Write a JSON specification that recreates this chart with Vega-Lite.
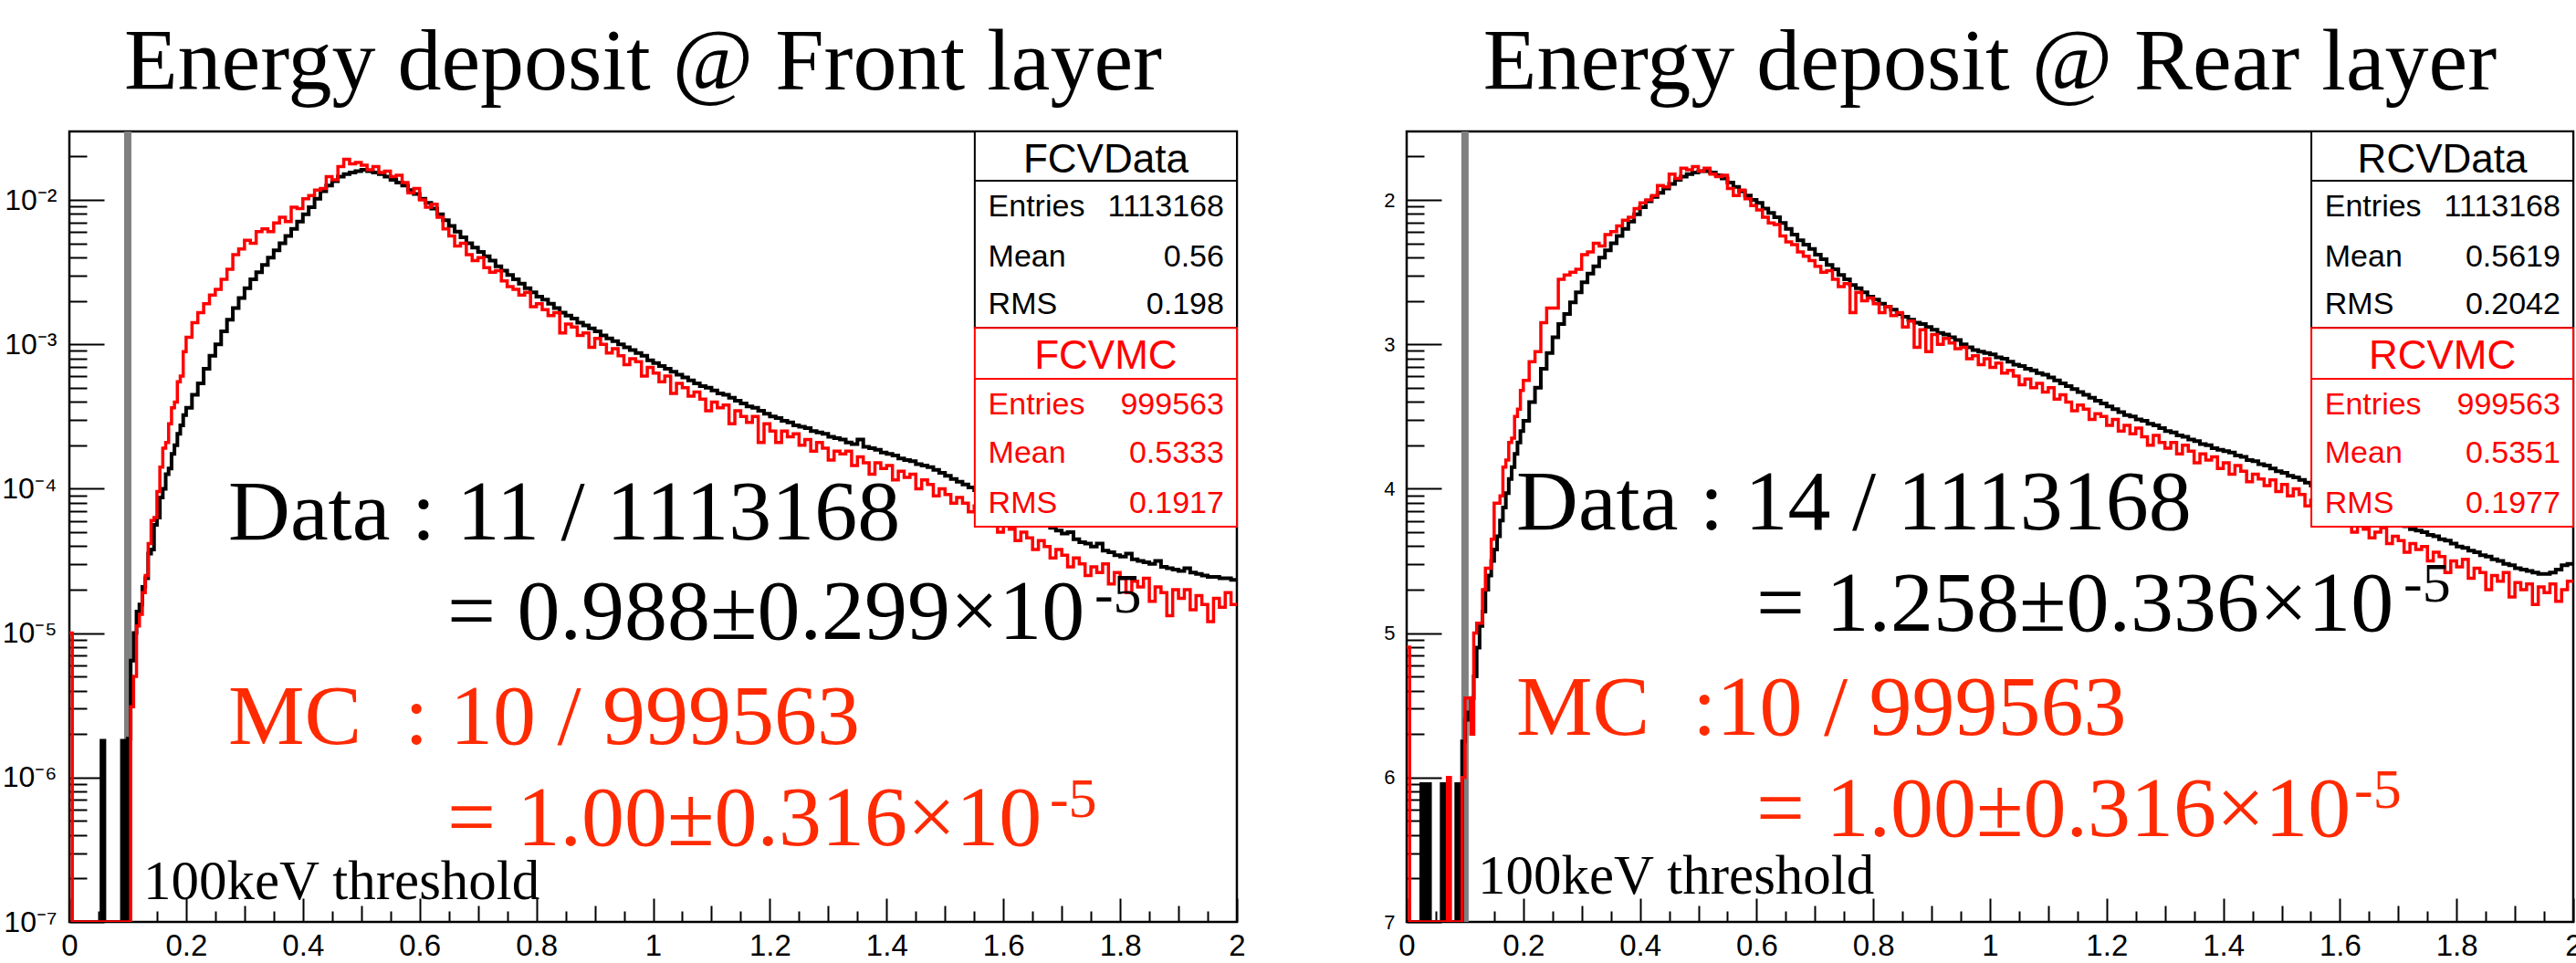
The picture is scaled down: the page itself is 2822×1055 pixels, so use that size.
{
"$schema": "https://vega.github.io/schema/vega-lite/v6.json",
"background": "white",
"padding": {"left": 0, "top": 19, "right": 0, "bottom": 0},
"spacing": 148,
"config": {"view": {"stroke": "black", "strokeWidth": 2.5}, "font": "Liberation Sans"},
"datasets": {
"hist": [
{"x":0.000,"fd":1e-7,"fm":1e-5,"rd":1e-7,"rm":8e-6},
{"x":0.005,"fd":1e-7,"fm":1e-7,"rd":1e-7,"rm":1e-7},
{"x":0.010,"fd":1e-7,"fm":1e-7,"rd":1e-7,"rm":1e-7},
{"x":0.015,"fd":1e-7,"fm":1e-7,"rd":1e-7,"rm":1e-7},
{"x":0.020,"fd":1e-7,"fm":1e-7,"rd":1e-7,"rm":1e-7},
{"x":0.025,"fd":1e-7,"fm":1e-7,"rd":9e-7,"rm":1e-7},
{"x":0.030,"fd":1e-7,"fm":1e-7,"rd":1e-7,"rm":1e-7},
{"x":0.035,"fd":1e-7,"fm":1e-7,"rd":9e-7,"rm":1e-7},
{"x":0.040,"fd":1e-7,"fm":1e-7,"rd":1e-7,"rm":1e-7},
{"x":0.045,"fd":1e-7,"fm":1e-7,"rd":1e-7,"rm":1e-7},
{"x":0.050,"fd":1e-7,"fm":1e-7,"rd":1e-7,"rm":1e-7},
{"x":0.055,"fd":1.8e-6,"fm":1e-7,"rd":1e-7,"rm":1e-7},
{"x":0.060,"fd":1e-7,"fm":1e-7,"rd":9e-7,"rm":1e-7},
{"x":0.065,"fd":1e-7,"fm":1e-7,"rd":1e-7,"rm":1e-7},
{"x":0.070,"fd":1e-7,"fm":1e-7,"rd":1e-7,"rm":1e-6},
{"x":0.075,"fd":1e-7,"fm":1e-7,"rd":1e-7,"rm":1e-7},
{"x":0.080,"fd":1e-7,"fm":1e-7,"rd":1e-7,"rm":1e-7},
{"x":0.085,"fd":1e-7,"fm":1e-7,"rd":9e-7,"rm":1e-7},
{"x":0.090,"fd":1.8e-6,"fm":1e-7,"rd":1e-7,"rm":1e-7},
{"x":0.095,"fd":1e-7,"fm":1e-7,"rd":1.78e-6,"rm":1e-6},
{"x":0.100,"fd":1.86e-6,"fm":1e-7,"rd":2.51e-6,"rm":3.55e-6},
{"x":0.105,"fd":6.46e-6,"fm":3.09e-6,"rd":2.82e-6,"rm":3.55e-6},
{"x":0.110,"fd":1.00e-5,"fm":5.01e-6,"rd":3.55e-6,"rm":2.00e-6},
{"x":0.115,"fd":1.41e-5,"fm":1.12e-5,"rd":5.01e-6,"rm":1.00e-5},
{"x":0.120,"fd":1.58e-5,"fm":1.35e-5,"rd":7.94e-6,"rm":1.17e-5},
{"x":0.125,"fd":2.09e-5,"fm":1.91e-5,"rd":1.12e-5,"rm":1.17e-5},
{"x":0.130,"fd":2.40e-5,"fm":2.51e-5,"rd":1.41e-5,"rm":2.00e-5},
{"x":0.135,"fd":3.55e-5,"fm":4.17e-5,"rd":2.00e-5,"rm":2.82e-5},
{"x":0.140,"fd":3.80e-5,"fm":6.03e-5,"rd":2.51e-5,"rm":2.82e-5},
{"x":0.145,"fd":5.62e-5,"fm":6.31e-5,"rd":3.16e-5,"rm":4.47e-5},
{"x":0.150,"fd":6.31e-5,"fm":9.55e-5,"rd":3.80e-5,"rm":7.94e-5},
{"x":0.155,"fd":8.71e-5,"fm":1.41e-4,"rd":4.68e-5,"rm":7.94e-5},
{"x":0.160,"fd":1.00e-4,"fm":1.91e-4,"rd":6.03e-5,"rm":8.91e-5},
{"x":0.165,"fd":1.26e-4,"fm":2.09e-4,"rd":7.41e-5,"rm":1.41e-4},
{"x":0.170,"fd":1.38e-4,"fm":2.82e-4,"rd":9.33e-5,"rm":1.58e-4},
{"x":0.175,"fd":1.74e-4,"fm":3.63e-4,"rd":1.17e-4,"rm":2.09e-4},
{"x":0.180,"fd":2.00e-4,"fm":3.98e-4,"rd":1.41e-4,"rm":2.24e-4},
{"x":0.185,"fd":2.40e-4,"fm":5.50e-4,"rd":1.74e-4,"rm":3.16e-4},
{"x":0.190,"fd":2.75e-4,"fm":6.03e-4,"rd":2.09e-4,"rm":3.55e-4},
{"x":0.195,"fd":3.24e-4,"fm":8.91e-4,"rd":2.51e-4,"rm":4.79e-4},
{"x":0.20,"fd":3.63e-4,"fm":1.12e-3,"rd":2.95e-4,"rm":5.62e-4},
{"x":0.21,"fd":4.47e-4,"fm":1.41e-3,"rd":3.98e-4,"rm":7.59e-4},
{"x":0.22,"fd":5.37e-4,"fm":1.66e-3,"rd":5.01e-4,"rm":8.91e-4},
{"x":0.23,"fd":6.76e-4,"fm":1.91e-3,"rd":6.76e-4,"rm":1.41e-3},
{"x":0.24,"fd":8.32e-4,"fm":2.19e-3,"rd":8.71e-4,"rm":1.78e-3},
{"x":0.25,"fd":1.00e-3,"fm":2.40e-3,"rd":1.12e-3,"rm":1.78e-3},
{"x":0.26,"fd":1.23e-3,"fm":2.82e-3,"rd":1.38e-3,"rm":2.82e-3},
{"x":0.27,"fd":1.48e-3,"fm":3.31e-3,"rd":1.62e-3,"rm":3.02e-3},
{"x":0.28,"fd":1.78e-3,"fm":4.17e-3,"rd":1.95e-3,"rm":3.16e-3},
{"x":0.29,"fd":2.09e-3,"fm":4.57e-3,"rd":2.29e-3,"rm":3.31e-3},
{"x":0.30,"fd":2.45e-3,"fm":5.25e-3,"rd":2.69e-3,"rm":4.17e-3},
{"x":0.31,"fd":2.82e-3,"fm":5.01e-3,"rd":3.09e-3,"rm":4.37e-3},
{"x":0.32,"fd":3.16e-3,"fm":6.03e-3,"rd":3.47e-3,"rm":5.01e-3},
{"x":0.33,"fd":3.55e-3,"fm":6.31e-3,"rd":3.98e-3,"rm":4.79e-3},
{"x":0.34,"fd":3.98e-3,"fm":6.03e-3,"rd":4.47e-3,"rm":5.75e-3},
{"x":0.35,"fd":4.47e-3,"fm":6.92e-3,"rd":5.01e-3,"rm":6.03e-3},
{"x":0.36,"fd":5.01e-3,"fm":7.59e-3,"rd":5.62e-3,"rm":6.61e-3},
{"x":0.37,"fd":5.62e-3,"fm":7.08e-3,"rd":6.31e-3,"rm":7.24e-3},
{"x":0.38,"fd":6.31e-3,"fm":8.91e-3,"rd":7.08e-3,"rm":7.59e-3},
{"x":0.39,"fd":7.08e-3,"fm":8.71e-3,"rd":7.94e-3,"rm":8.71e-3},
{"x":0.40,"fd":7.94e-3,"fm":1.02e-2,"rd":8.91e-3,"rm":9.55e-3},
{"x":0.41,"fd":8.91e-3,"fm":1.07e-2,"rd":9.77e-3,"rm":1.00e-2},
{"x":0.42,"fd":1.02e-2,"fm":1.17e-2,"rd":1.05e-2,"rm":1.07e-2},
{"x":0.43,"fd":1.15e-2,"fm":1.20e-2,"rd":1.12e-2,"rm":1.26e-2},
{"x":0.44,"fd":1.26e-2,"fm":1.45e-2,"rd":1.20e-2,"rm":1.23e-2},
{"x":0.45,"fd":1.35e-2,"fm":1.38e-2,"rd":1.29e-2,"rm":1.51e-2},
{"x":0.46,"fd":1.45e-2,"fm":1.70e-2,"rd":1.38e-2,"rm":1.41e-2},
{"x":0.47,"fd":1.51e-2,"fm":1.91e-2,"rd":1.45e-2,"rm":1.66e-2},
{"x":0.48,"fd":1.55e-2,"fm":1.78e-2,"rd":1.51e-2,"rm":1.62e-2},
{"x":0.49,"fd":1.58e-2,"fm":1.82e-2,"rd":1.55e-2,"rm":1.70e-2},
{"x":0.50,"fd":1.62e-2,"fm":1.74e-2,"rd":1.58e-2,"rm":1.58e-2},
{"x":0.51,"fd":1.58e-2,"fm":1.62e-2,"rd":1.58e-2,"rm":1.66e-2},
{"x":0.52,"fd":1.55e-2,"fm":1.70e-2,"rd":1.55e-2,"rm":1.51e-2},
{"x":0.53,"fd":1.51e-2,"fm":1.55e-2,"rd":1.48e-2,"rm":1.45e-2},
{"x":0.54,"fd":1.45e-2,"fm":1.58e-2,"rd":1.41e-2,"rm":1.48e-2},
{"x":0.55,"fd":1.38e-2,"fm":1.45e-2,"rd":1.32e-2,"rm":1.20e-2},
{"x":0.56,"fd":1.32e-2,"fm":1.48e-2,"rd":1.23e-2,"rm":1.07e-2},
{"x":0.57,"fd":1.26e-2,"fm":1.32e-2,"rd":1.15e-2,"rm":1.17e-2},
{"x":0.58,"fd":1.17e-2,"fm":1.12e-2,"rd":1.07e-2,"rm":1.02e-2},
{"x":0.59,"fd":1.10e-2,"fm":1.20e-2,"rd":1.00e-2,"rm":9.12e-3},
{"x":0.60,"fd":1.02e-2,"fm":1.00e-2,"rd":9.55e-3,"rm":8.51e-3},
{"x":0.61,"fd":9.55e-3,"fm":8.91e-3,"rd":8.71e-3,"rm":7.59e-3},
{"x":0.62,"fd":8.71e-3,"fm":9.33e-3,"rd":8.13e-3,"rm":6.92e-3},
{"x":0.63,"fd":7.94e-3,"fm":7.59e-3,"rd":7.59e-3,"rm":6.76e-3},
{"x":0.64,"fd":7.24e-3,"fm":6.31e-3,"rd":6.92e-3,"rm":5.62e-3},
{"x":0.65,"fd":6.61e-3,"fm":5.62e-3,"rd":6.31e-3,"rm":5.13e-3},
{"x":0.66,"fd":6.03e-3,"fm":4.79e-3,"rd":5.75e-3,"rm":4.90e-3},
{"x":0.67,"fd":5.50e-3,"fm":5.01e-3,"rd":5.25e-3,"rm":4.37e-3},
{"x":0.68,"fd":5.01e-3,"fm":4.17e-3,"rd":4.90e-3,"rm":4.07e-3},
{"x":0.69,"fd":4.68e-3,"fm":3.80e-3,"rd":4.57e-3,"rm":3.80e-3},
{"x":0.70,"fd":4.37e-3,"fm":3.98e-3,"rd":4.17e-3,"rm":3.47e-3},
{"x":0.71,"fd":4.07e-3,"fm":3.39e-3,"rd":3.89e-3,"rm":3.16e-3},
{"x":0.72,"fd":3.80e-3,"fm":3.16e-3,"rd":3.55e-3,"rm":3.24e-3},
{"x":0.73,"fd":3.47e-3,"fm":3.24e-3,"rd":3.31e-3,"rm":2.82e-3},
{"x":0.74,"fd":3.24e-3,"fm":2.75e-3,"rd":3.02e-3,"rm":2.51e-3},
{"x":0.75,"fd":3.02e-3,"fm":2.51e-3,"rd":2.82e-3,"rm":2.63e-3},
{"x":0.76,"fd":2.82e-3,"fm":2.40e-3,"rd":2.57e-3,"rm":1.66e-3},
{"x":0.77,"fd":2.63e-3,"fm":2.19e-3,"rd":2.45e-3,"rm":2.29e-3},
{"x":0.78,"fd":2.45e-3,"fm":2.29e-3,"rd":2.29e-3,"rm":2.00e-3},
{"x":0.79,"fd":2.29e-3,"fm":1.82e-3,"rd":2.14e-3,"rm":2.09e-3},
{"x":0.80,"fd":2.14e-3,"fm":1.91e-3,"rd":2.04e-3,"rm":1.91e-3},
{"x":0.81,"fd":2.04e-3,"fm":1.74e-3,"rd":1.91e-3,"rm":1.66e-3},
{"x":0.82,"fd":1.91e-3,"fm":1.58e-3,"rd":1.82e-3,"rm":1.82e-3},
{"x":0.83,"fd":1.78e-3,"fm":1.66e-3,"rd":1.74e-3,"rm":1.58e-3},
{"x":0.84,"fd":1.66e-3,"fm":1.20e-3,"rd":1.62e-3,"rm":1.66e-3},
{"x":0.85,"fd":1.58e-3,"fm":1.38e-3,"rd":1.55e-3,"rm":1.32e-3},
{"x":0.86,"fd":1.51e-3,"fm":1.32e-3,"rd":1.48e-3,"rm":1.45e-3},
{"x":0.87,"fd":1.41e-3,"fm":1.15e-3,"rd":1.41e-3,"rm":9.55e-4},
{"x":0.88,"fd":1.35e-3,"fm":1.20e-3,"rd":1.38e-3,"rm":1.26e-3},
{"x":0.89,"fd":1.29e-3,"fm":9.55e-4,"rd":1.32e-3,"rm":8.91e-4},
{"x":0.90,"fd":1.23e-3,"fm":1.10e-3,"rd":1.26e-3,"rm":1.17e-3},
{"x":0.91,"fd":1.15e-3,"fm":1.00e-3,"rd":1.20e-3,"rm":1.00e-3},
{"x":0.92,"fd":1.10e-3,"fm":8.71e-4,"rd":1.17e-3,"rm":1.10e-3},
{"x":0.93,"fd":1.05e-3,"fm":9.33e-4,"rd":1.12e-3,"rm":1.02e-3},
{"x":0.94,"fd":1.00e-3,"fm":8.32e-4,"rd":1.07e-3,"rm":9.33e-4},
{"x":0.95,"fd":9.55e-4,"fm":7.24e-4,"rd":1.00e-3,"rm":9.55e-4},
{"x":0.96,"fd":9.12e-4,"fm":7.94e-4,"rd":9.55e-4,"rm":7.94e-4},
{"x":0.97,"fd":8.71e-4,"fm":7.59e-4,"rd":9.12e-4,"rm":8.32e-4},
{"x":0.98,"fd":8.32e-4,"fm":6.03e-4,"rd":8.91e-4,"rm":7.24e-4},
{"x":0.99,"fd":7.76e-4,"fm":6.92e-4,"rd":8.71e-4,"rm":7.94e-4},
{"x":1.00,"fd":7.41e-4,"fm":6.31e-4,"rd":8.51e-4,"rm":6.92e-4},
{"x":1.01,"fd":7.08e-4,"fm":5.50e-4,"rd":8.13e-4,"rm":7.41e-4},
{"x":1.02,"fd":6.76e-4,"fm":6.03e-4,"rd":7.94e-4,"rm":6.31e-4},
{"x":1.03,"fd":6.46e-4,"fm":4.57e-4,"rd":7.59e-4,"rm":6.61e-4},
{"x":1.04,"fd":6.17e-4,"fm":5.37e-4,"rd":7.24e-4,"rm":6.03e-4},
{"x":1.05,"fd":5.89e-4,"fm":5.01e-4,"rd":7.08e-4,"rm":5.25e-4},
{"x":1.06,"fd":5.62e-4,"fm":4.37e-4,"rd":6.76e-4,"rm":5.75e-4},
{"x":1.07,"fd":5.37e-4,"fm":4.68e-4,"rd":6.61e-4,"rm":5.01e-4},
{"x":1.08,"fd":5.13e-4,"fm":4.17e-4,"rd":6.31e-4,"rm":5.37e-4},
{"x":1.09,"fd":5.01e-4,"fm":3.47e-4,"rd":6.17e-4,"rm":4.68e-4},
{"x":1.10,"fd":4.79e-4,"fm":3.98e-4,"rd":5.89e-4,"rm":5.01e-4},
{"x":1.11,"fd":4.57e-4,"fm":3.63e-4,"rd":5.62e-4,"rm":4.17e-4},
{"x":1.12,"fd":4.47e-4,"fm":3.80e-4,"rd":5.37e-4,"rm":4.47e-4},
{"x":1.13,"fd":4.27e-4,"fm":2.82e-4,"rd":5.13e-4,"rm":3.98e-4},
{"x":1.14,"fd":4.07e-4,"fm":3.47e-4,"rd":4.90e-4,"rm":3.47e-4},
{"x":1.15,"fd":3.89e-4,"fm":3.16e-4,"rd":4.68e-4,"rm":3.80e-4},
{"x":1.16,"fd":3.72e-4,"fm":2.88e-4,"rd":4.47e-4,"rm":3.55e-4},
{"x":1.17,"fd":3.63e-4,"fm":3.16e-4,"rd":4.27e-4,"rm":3.02e-4},
{"x":1.18,"fd":3.47e-4,"fm":2.09e-4,"rd":4.07e-4,"rm":3.31e-4},
{"x":1.19,"fd":3.31e-4,"fm":2.82e-4,"rd":3.89e-4,"rm":3.16e-4},
{"x":1.20,"fd":3.16e-4,"fm":2.51e-4,"rd":3.72e-4,"rm":2.75e-4},
{"x":1.21,"fd":3.09e-4,"fm":2.09e-4,"rd":3.55e-4,"rm":3.02e-4},
{"x":1.22,"fd":2.95e-4,"fm":2.51e-4,"rd":3.39e-4,"rm":2.51e-4},
{"x":1.23,"fd":2.88e-4,"fm":2.29e-4,"rd":3.24e-4,"rm":2.75e-4},
{"x":1.24,"fd":2.75e-4,"fm":2.40e-4,"rd":3.16e-4,"rm":2.40e-4},
{"x":1.25,"fd":2.69e-4,"fm":2.00e-4,"rd":3.02e-4,"rm":2.63e-4},
{"x":1.26,"fd":2.63e-4,"fm":2.19e-4,"rd":2.95e-4,"rm":2.29e-4},
{"x":1.27,"fd":2.51e-4,"fm":1.82e-4,"rd":2.82e-4,"rm":2.00e-4},
{"x":1.28,"fd":2.45e-4,"fm":2.09e-4,"rd":2.75e-4,"rm":2.34e-4},
{"x":1.29,"fd":2.40e-4,"fm":1.91e-4,"rd":2.63e-4,"rm":2.09e-4},
{"x":1.30,"fd":2.29e-4,"fm":1.58e-4,"rd":2.51e-4,"rm":1.91e-4},
{"x":1.31,"fd":2.24e-4,"fm":1.82e-4,"rd":2.45e-4,"rm":2.09e-4},
{"x":1.32,"fd":2.19e-4,"fm":1.74e-4,"rd":2.34e-4,"rm":1.74e-4},
{"x":1.33,"fd":2.09e-4,"fm":1.82e-4,"rd":2.29e-4,"rm":2.00e-4},
{"x":1.34,"fd":2.04e-4,"fm":1.45e-4,"rd":2.19e-4,"rm":1.82e-4},
{"x":1.35,"fd":2.19e-4,"fm":1.66e-4,"rd":2.14e-4,"rm":1.51e-4},
{"x":1.36,"fd":1.95e-4,"fm":1.51e-4,"rd":2.04e-4,"rm":1.74e-4},
{"x":1.37,"fd":1.91e-4,"fm":1.26e-4,"rd":2.00e-4,"rm":1.58e-4},
{"x":1.38,"fd":1.86e-4,"fm":1.51e-4,"rd":1.91e-4,"rm":1.66e-4},
{"x":1.39,"fd":1.78e-4,"fm":1.38e-4,"rd":1.86e-4,"rm":1.38e-4},
{"x":1.40,"fd":1.74e-4,"fm":1.45e-4,"rd":1.82e-4,"rm":1.51e-4},
{"x":1.41,"fd":1.70e-4,"fm":1.15e-4,"rd":1.78e-4,"rm":1.26e-4},
{"x":1.42,"fd":1.62e-4,"fm":1.32e-4,"rd":1.70e-4,"rm":1.45e-4},
{"x":1.43,"fd":1.58e-4,"fm":1.20e-4,"rd":1.66e-4,"rm":1.32e-4},
{"x":1.44,"fd":1.55e-4,"fm":1.26e-4,"rd":1.58e-4,"rm":1.12e-4},
{"x":1.45,"fd":1.48e-4,"fm":1.00e-4,"rd":1.55e-4,"rm":1.26e-4},
{"x":1.46,"fd":1.45e-4,"fm":1.15e-4,"rd":1.48e-4,"rm":1.17e-4},
{"x":1.47,"fd":1.41e-4,"fm":1.07e-4,"rd":1.45e-4,"rm":1.05e-4},
{"x":1.48,"fd":1.35e-4,"fm":8.91e-5,"rd":1.38e-4,"rm":1.15e-4},
{"x":1.49,"fd":1.29e-4,"fm":1.00e-4,"rd":1.32e-4,"rm":9.55e-5},
{"x":1.50,"fd":1.23e-4,"fm":9.12e-5,"rd":1.29e-4,"rm":1.07e-4},
{"x":1.51,"fd":1.17e-4,"fm":7.94e-5,"rd":1.23e-4,"rm":8.91e-5},
{"x":1.52,"fd":1.12e-4,"fm":8.71e-5,"rd":1.20e-4,"rm":1.00e-4},
{"x":1.53,"fd":1.07e-4,"fm":7.94e-5,"rd":1.15e-4,"rm":9.12e-5},
{"x":1.54,"fd":1.02e-4,"fm":6.92e-5,"rd":1.10e-4,"rm":7.59e-5},
{"x":1.55,"fd":9.77e-5,"fm":7.59e-5,"rd":1.05e-4,"rm":8.32e-5},
{"x":1.56,"fd":9.33e-5,"fm":6.31e-5,"rd":1.00e-4,"rm":7.94e-5},
{"x":1.57,"fd":8.91e-5,"fm":6.92e-5,"rd":9.55e-5,"rm":6.61e-5},
{"x":1.58,"fd":8.51e-5,"fm":6.03e-5,"rd":9.12e-5,"rm":7.24e-5},
{"x":1.59,"fd":8.13e-5,"fm":5.01e-5,"rd":8.71e-5,"rm":6.31e-5},
{"x":1.60,"fd":7.76e-5,"fm":5.75e-5,"rd":8.32e-5,"rm":6.92e-5},
{"x":1.61,"fd":7.41e-5,"fm":5.25e-5,"rd":7.94e-5,"rm":5.75e-5},
{"x":1.62,"fd":7.08e-5,"fm":4.37e-5,"rd":7.41e-5,"rm":5.01e-5},
{"x":1.63,"fd":6.76e-5,"fm":5.01e-5,"rd":7.08e-5,"rm":6.03e-5},
{"x":1.64,"fd":6.46e-5,"fm":4.57e-5,"rd":6.92e-5,"rm":5.25e-5},
{"x":1.65,"fd":6.17e-5,"fm":3.80e-5,"rd":6.61e-5,"rm":4.57e-5},
{"x":1.66,"fd":5.89e-5,"fm":4.37e-5,"rd":6.46e-5,"rm":5.01e-5},
{"x":1.67,"fd":5.62e-5,"fm":3.98e-5,"rd":6.17e-5,"rm":5.37e-5},
{"x":1.68,"fd":5.37e-5,"fm":3.31e-5,"rd":6.03e-5,"rm":4.17e-5},
{"x":1.69,"fd":5.13e-5,"fm":3.80e-5,"rd":5.75e-5,"rm":4.68e-5},
{"x":1.70,"fd":4.90e-5,"fm":3.47e-5,"rd":5.62e-5,"rm":4.37e-5},
{"x":1.71,"fd":5.01e-5,"fm":2.88e-5,"rd":5.50e-5,"rm":3.63e-5},
{"x":1.72,"fd":4.47e-5,"fm":3.31e-5,"rd":5.25e-5,"rm":4.17e-5},
{"x":1.73,"fd":4.27e-5,"fm":3.02e-5,"rd":5.13e-5,"rm":3.80e-5},
{"x":1.74,"fd":4.17e-5,"fm":2.51e-5,"rd":5.01e-5,"rm":3.98e-5},
{"x":1.75,"fd":3.98e-5,"fm":2.88e-5,"rd":4.79e-5,"rm":3.16e-5},
{"x":1.76,"fd":4.17e-5,"fm":2.63e-5,"rd":4.68e-5,"rm":3.63e-5},
{"x":1.77,"fd":3.72e-5,"fm":3.02e-5,"rd":4.47e-5,"rm":3.39e-5},
{"x":1.78,"fd":3.63e-5,"fm":2.19e-5,"rd":4.37e-5,"rm":2.63e-5},
{"x":1.79,"fd":3.47e-5,"fm":2.63e-5,"rd":4.17e-5,"rm":3.16e-5},
{"x":1.80,"fd":3.39e-5,"fm":2.40e-5,"rd":3.98e-5,"rm":2.88e-5},
{"x":1.81,"fd":3.55e-5,"fm":1.91e-5,"rd":3.89e-5,"rm":3.24e-5},
{"x":1.82,"fd":3.24e-5,"fm":2.29e-5,"rd":3.72e-5,"rm":2.40e-5},
{"x":1.83,"fd":3.16e-5,"fm":2.09e-5,"rd":3.63e-5,"rm":2.82e-5},
{"x":1.84,"fd":3.09e-5,"fm":2.40e-5,"rd":3.47e-5,"rm":2.63e-5},
{"x":1.85,"fd":3.02e-5,"fm":1.66e-5,"rd":3.39e-5,"rm":2.00e-5},
{"x":1.86,"fd":3.16e-5,"fm":2.09e-5,"rd":3.24e-5,"rm":2.51e-5},
{"x":1.87,"fd":2.88e-5,"fm":1.91e-5,"rd":3.16e-5,"rm":2.29e-5},
{"x":1.88,"fd":2.82e-5,"fm":1.32e-5,"rd":3.02e-5,"rm":2.63e-5},
{"x":1.89,"fd":2.75e-5,"fm":2.00e-5,"rd":2.95e-5,"rm":1.78e-5},
{"x":1.90,"fd":2.69e-5,"fm":1.74e-5,"rd":2.82e-5,"rm":2.24e-5},
{"x":1.91,"fd":2.82e-5,"fm":2.00e-5,"rd":2.75e-5,"rm":2.00e-5},
{"x":1.92,"fd":2.63e-5,"fm":1.45e-5,"rd":2.69e-5,"rm":2.19e-5},
{"x":1.93,"fd":2.57e-5,"fm":1.82e-5,"rd":2.63e-5,"rm":1.58e-5},
{"x":1.94,"fd":2.51e-5,"fm":1.58e-5,"rd":2.57e-5,"rm":2.09e-5},
{"x":1.95,"fd":2.45e-5,"fm":1.20e-5,"rd":2.57e-5,"rm":1.91e-5},
{"x":1.96,"fd":2.45e-5,"fm":1.74e-5,"rd":2.63e-5,"rm":2.19e-5},
{"x":1.97,"fd":2.40e-5,"fm":1.51e-5,"rd":2.75e-5,"rm":1.66e-5},
{"x":1.98,"fd":2.40e-5,"fm":1.91e-5,"rd":2.95e-5,"rm":2.00e-5},
{"x":1.99,"fd":2.34e-5,"fm":1.58e-5,"rd":3.02e-5,"rm":2.29e-5},
{"x":2.00,"fd":2.34e-5,"fm":1.58e-5,"rd":3.02e-5,"rm":2.29e-5}
],
"boxes": [
{"series":"Data","top":0.0298,"bottom":1.30e-3,"divider":1.36e-2},
{"series":"MC","top":1.30e-3,"bottom":5.46e-5,"divider":5.77e-4}
],
"stats": [
{"panel":"F","series":"Data","kind":"title","label":"FCVData","value":"","y":1.55e-2},
{"panel":"F","series":"Data","kind":"stat","label":"Entries","value":"1113168","y":7.69e-3},
{"panel":"F","series":"Data","kind":"stat","label":"Mean","value":"0.56","y":3.45e-3},
{"panel":"F","series":"Data","kind":"stat","label":"RMS","value":"0.198","y":1.62e-3},
{"panel":"F","series":"MC","kind":"title","label":"FCVMC","value":"","y":6.77e-4},
{"panel":"F","series":"MC","kind":"stat","label":"Entries","value":"999563","y":3.27e-4},
{"panel":"F","series":"MC","kind":"stat","label":"Mean","value":"0.5333","y":1.51e-4},
{"panel":"F","series":"MC","kind":"stat","label":"RMS","value":"0.1917","y":6.79e-5},
{"panel":"R","series":"Data","kind":"title","label":"RCVData","value":"","y":1.55e-2},
{"panel":"R","series":"Data","kind":"stat","label":"Entries","value":"1113168","y":7.69e-3},
{"panel":"R","series":"Data","kind":"stat","label":"Mean","value":"0.5619","y":3.45e-3},
{"panel":"R","series":"Data","kind":"stat","label":"RMS","value":"0.2042","y":1.62e-3},
{"panel":"R","series":"MC","kind":"title","label":"RCVMC","value":"","y":6.77e-4},
{"panel":"R","series":"MC","kind":"stat","label":"Entries","value":"999563","y":3.27e-4},
{"panel":"R","series":"MC","kind":"stat","label":"Mean","value":"0.5351","y":1.51e-4},
{"panel":"R","series":"MC","kind":"stat","label":"RMS","value":"0.1977","y":6.79e-5}
],
"notes": [
{"panel":"F","series":"Data","kind":"line","x":0.2721,"y":4.45e-5,"text":"Data : 11 / 1113168"},
{"panel":"F","series":"Data","kind":"line","x":0.6474,"y":9.1e-6,"text":"= 0.988±0.299×10"},
{"panel":"F","series":"Data","kind":"exp","x":1.756,"y":1.39e-5,"text":"-5"},
{"panel":"F","series":"MC","kind":"line","x":0.2721,"y":1.71e-6,"text":"MC\u00a0 : 10 / 999563"},
{"panel":"F","series":"MC","kind":"line","x":0.6474,"y":3.4e-7,"text":"= 1.00±0.316×10"},
{"panel":"F","series":"MC","kind":"exp","x":1.6794,"y":5.33e-7,"text":"-5"},
{"panel":"F","series":"Threshold","kind":"thr","x":0.1267,"y":1.44e-7,"text":"100keV threshold"},
{"panel":"R","series":"Data","kind":"line","x":0.1878,"y":5.22e-5,"text":"Data : 14 / 1113168"},
{"panel":"R","series":"Data","kind":"line","x":0.5994,"y":1.04e-5,"text":"= 1.258±0.336×10"},
{"panel":"R","series":"Data","kind":"exp","x":1.709,"y":1.66e-5,"text":"-5"},
{"panel":"R","series":"MC","kind":"line","x":0.1878,"y":1.98e-6,"text":"MC\u00a0 :10 / 999563"},
{"panel":"R","series":"MC","kind":"line","x":0.5994,"y":3.93e-7,"text":"= 1.00±0.316×10"},
{"panel":"R","series":"MC","kind":"exp","x":1.6244,"y":6.17e-7,"text":"-5"},
{"panel":"R","series":"Threshold","kind":"thr","x":0.1221,"y":1.57e-7,"text":"100keV threshold"}
]
},
"hconcat": [
{
"width": 1279, "height": 866,
"title": {"text": "Energy deposit @ Front layer", "font": "Liberation Serif", "fontSize": 96, "fontWeight": "normal", "color": "black", "offset": 22, "anchor": "middle", "dx": -11},
"resolve": {"axis": {"x": "independent", "y": "independent"}},
"layer": [
{"data": {"values": [{"t": 0.1}]}, "mark": {"type": "rule", "color": "#808080", "strokeWidth": 8},
 "encoding": {"x": {"field": "t", "type": "quantitative", "scale": {"domain": [0, 2], "nice": false}, "axis": null}}},
{"data": {"name": "hist"}, "mark": {"type": "point", "opacity": 0},
 "encoding": {
  "x": {"field": "x", "type": "quantitative", "scale": {"domain": [0, 2], "nice": false},
   "axis": {"orient": "bottom", "values": [0.05,0.15,0.25,0.35,0.45,0.55,0.65,0.75,0.85,0.95,1.05,1.15,1.25,1.35,1.45,1.55,1.65,1.75,1.85,1.95], "offset": -12, "tickSize": 12, "tickWidth": 2, "tickColor": "black", "labels": false, "domain": false, "grid": false, "title": null}},
  "y": {"field": "fd", "type": "quantitative", "scale": {"type": "log", "domain": [1e-7, 0.0298], "nice": false},
   "axis": {"orient": "left", "values": [2e-7,3e-7,4e-7,5e-7,6e-7,7e-7,8e-7,9e-7,2e-6,3e-6,4e-6,5e-6,6e-6,7e-6,8e-6,9e-6,2e-5,3e-5,4e-5,5e-5,6e-5,7e-5,8e-5,9e-5,2e-4,3e-4,4e-4,5e-4,6e-4,7e-4,8e-4,9e-4,2e-3,3e-3,4e-3,5e-3,6e-3,7e-3,8e-3,9e-3,2e-2], "offset": -19, "tickSize": 19, "tickWidth": 2, "tickColor": "black", "labels": false, "domain": false, "grid": false, "title": null}}}},
{"data": {"name": "hist"}, "mark": {"type": "point", "opacity": 0},
 "encoding": {
  "x": {"field": "x", "type": "quantitative", "scale": {"domain": [0, 2], "nice": false},
   "axis": {"orient": "bottom", "values": [0.1,0.3,0.5,0.7,0.9,1.1,1.3,1.5,1.7,1.9], "offset": -18, "tickSize": 18, "tickWidth": 2, "tickColor": "black", "labels": false, "domain": false, "grid": false, "title": null}},
  "y": {"field": "fd", "type": "quantitative", "scale": {"type": "log", "domain": [1e-7, 0.0298], "nice": false}, "axis": null}}},
{"data": {"name": "hist"}, "mark": {"type": "line", "interpolate": "step-after", "color": "#000000", "strokeWidth": 4, "clip": true},
 "encoding": {
  "x": {"field": "x", "type": "quantitative", "scale": {"domain": [0, 2], "nice": false},
   "axis": {"orient": "bottom", "values": [0,0.2,0.4,0.6,0.8,1,1.2,1.4,1.6,1.8,2], "offset": -26, "tickSize": 26,
    "labelExpr": "'' + round(datum.value*10)/10",
    "tickWidth": 2, "tickColor": "black", "domain": false, "grid": false,
    "labelFont": "Liberation Sans", "labelFontSize": 33, "labelColor": "black", "labelPadding": 10, "labelFlush": false, "labelOverlap": false, "labelBound": false,
    "title": "Energy deposit (MeV / 5 keV)", "titleFont": "Liberation Sans", "titleFontSize": 33, "titleFontWeight": "normal", "titleColor": "black", "titleAnchor": "end", "titlePadding": 0}},
  "y": {"field": "fd", "type": "quantitative", "scale": {"type": "log", "domain": [1e-7, 0.0298], "nice": false},
   "axis": {"orient": "left", "values": [1e-7,1e-6,1e-5,1e-4,1e-3,1e-2], "offset": -38, "tickSize": 38,
    "labelExpr": "datum.value < 5e-7 ? '10⁻⁷' : datum.value < 5e-6 ? '10⁻⁶' : datum.value < 5e-5 ? '10⁻⁵' : datum.value < 5e-4 ? '10⁻⁴' : datum.value < 5e-3 ? '10⁻³' : '10⁻²'",
    "tickWidth": 2, "tickColor": "black", "domain": false, "grid": false,
    "labelFont": "Liberation Sans", "labelFontSize": 32, "labelColor": "black", "labelPadding": 14, "labelFlush": false, "labelOverlap": false, "labelBound": false,
    "title": null}}}},
{"data": {"name": "hist"}, "mark": {"type": "line", "interpolate": "step-after", "color": "#ff0000", "strokeWidth": 3.5, "clip": true},
 "encoding": {"x": {"field": "x", "type": "quantitative", "scale": {"domain": [0, 2], "nice": false}, "axis": null},
  "y": {"field": "fm", "type": "quantitative", "scale": {"type": "log", "domain": [1e-7, 0.0298], "nice": false}, "axis": null}}},
{"data": {"name": "boxes"}, "mark": {"type": "rect", "fill": "white", "strokeWidth": 2},
 "encoding": {"x": {"datum": 1.551, "type": "quantitative", "scale": {"domain": [0, 2], "nice": false}, "axis": null}, "x2": {"datum": 2},
  "y": {"field": "top", "type": "quantitative", "scale": {"type": "log", "domain": [1e-7, 0.0298], "nice": false}, "axis": null}, "y2": {"field": "bottom"},
  "stroke": {"field": "series", "type": "nominal", "scale": {"domain": ["Data", "MC"], "range": ["#000000", "#ff0000"]}, "legend": null}}},
{"data": {"name": "boxes"}, "mark": {"type": "rule", "strokeWidth": 2},
 "encoding": {"x": {"datum": 1.551, "type": "quantitative", "scale": {"domain": [0, 2], "nice": false}, "axis": null}, "x2": {"datum": 2},
  "y": {"field": "divider", "type": "quantitative", "scale": {"type": "log", "domain": [1e-7, 0.0298], "nice": false}, "axis": null},
  "stroke": {"field": "series", "type": "nominal", "scale": {"domain": ["Data", "MC"], "range": ["#000000", "#ff0000"]}, "legend": null}}},
{"data": {"name": "stats"}, "transform": [{"filter": "datum.panel == 'F' && datum.kind == 'title'"}],
 "mark": {"type": "text", "font": "Liberation Sans", "fontSize": 44, "align": "center", "baseline": "alphabetic"},
 "encoding": {"x": {"datum": 1.7755, "type": "quantitative", "scale": {"domain": [0, 2], "nice": false}, "axis": null},
  "y": {"field": "y", "type": "quantitative", "scale": {"type": "log", "domain": [1e-7, 0.0298], "nice": false}, "axis": null},
  "text": {"field": "label"},
  "fill": {"field": "series", "type": "nominal", "scale": {"domain": ["Data", "MC"], "range": ["#000000", "#ff0000"]}, "legend": null}}},
{"data": {"name": "stats"}, "transform": [{"filter": "datum.panel == 'F' && datum.kind == 'stat'"}],
 "mark": {"type": "text", "font": "Liberation Sans", "fontSize": 34, "align": "left", "baseline": "alphabetic"},
 "encoding": {"x": {"datum": 1.574, "type": "quantitative", "scale": {"domain": [0, 2], "nice": false}, "axis": null},
  "y": {"field": "y", "type": "quantitative", "scale": {"type": "log", "domain": [1e-7, 0.0298], "nice": false}, "axis": null},
  "text": {"field": "label"},
  "fill": {"field": "series", "type": "nominal", "scale": {"domain": ["Data", "MC"], "range": ["#000000", "#ff0000"]}, "legend": null}}},
{"data": {"name": "stats"}, "transform": [{"filter": "datum.panel == 'F' && datum.kind == 'stat'"}],
 "mark": {"type": "text", "font": "Liberation Sans", "fontSize": 34, "align": "right", "baseline": "alphabetic"},
 "encoding": {"x": {"datum": 1.978, "type": "quantitative", "scale": {"domain": [0, 2], "nice": false}, "axis": null},
  "y": {"field": "y", "type": "quantitative", "scale": {"type": "log", "domain": [1e-7, 0.0298], "nice": false}, "axis": null},
  "text": {"field": "value"},
  "fill": {"field": "series", "type": "nominal", "scale": {"domain": ["Data", "MC"], "range": ["#000000", "#ff0000"]}, "legend": null}}},
{"data": {"name": "notes"}, "transform": [{"filter": "datum.panel == 'F' && datum.kind == 'line'"}],
 "mark": {"type": "text", "font": "Liberation Serif", "fontSize": 94, "align": "left", "baseline": "alphabetic"},
 "encoding": {"x": {"field": "x", "type": "quantitative", "scale": {"domain": [0, 2], "nice": false}, "axis": null},
  "y": {"field": "y", "type": "quantitative", "scale": {"type": "log", "domain": [1e-7, 0.0298], "nice": false}, "axis": null},
  "text": {"field": "text"},
  "color": {"field": "series", "type": "nominal", "scale": {"domain": ["Data", "MC", "Threshold"], "range": ["#000000", "#ff2a00", "#000000"]}, "legend": null}}},
{"data": {"name": "notes"}, "transform": [{"filter": "datum.panel == 'F' && datum.kind == 'exp'"}],
 "mark": {"type": "text", "font": "Liberation Serif", "fontSize": 62, "align": "left", "baseline": "alphabetic"},
 "encoding": {"x": {"field": "x", "type": "quantitative", "scale": {"domain": [0, 2], "nice": false}, "axis": null},
  "y": {"field": "y", "type": "quantitative", "scale": {"type": "log", "domain": [1e-7, 0.0298], "nice": false}, "axis": null},
  "text": {"field": "text"},
  "color": {"field": "series", "type": "nominal", "scale": {"domain": ["Data", "MC", "Threshold"], "range": ["#000000", "#ff2a00", "#000000"]}, "legend": null}}},
{"data": {"name": "notes"}, "transform": [{"filter": "datum.panel == 'F' && datum.kind == 'thr'"}],
 "mark": {"type": "text", "font": "Liberation Serif", "fontSize": 61, "align": "left", "baseline": "alphabetic"},
 "encoding": {"x": {"field": "x", "type": "quantitative", "scale": {"domain": [0, 2], "nice": false}, "axis": null},
  "y": {"field": "y", "type": "quantitative", "scale": {"type": "log", "domain": [1e-7, 0.0298], "nice": false}, "axis": null},
  "text": {"field": "text"},
  "color": {"field": "series", "type": "nominal", "scale": {"domain": ["Data", "MC", "Threshold"], "range": ["#000000", "#ff2a00", "#000000"]}, "legend": null}}}
]
},
{
"width": 1278, "height": 866,
"title": {"text": "Energy deposit @ Rear layer", "font": "Liberation Serif", "fontSize": 96, "fontWeight": "normal", "color": "black", "offset": 22, "anchor": "middle"},
"resolve": {"axis": {"x": "independent", "y": "independent"}},
"layer": [
{"data": {"values": [{"t": 0.1}]}, "mark": {"type": "rule", "color": "#808080", "strokeWidth": 8},
 "encoding": {"x": {"field": "t", "type": "quantitative", "scale": {"domain": [0, 2], "nice": false}, "axis": null}}},
{"data": {"name": "hist"}, "mark": {"type": "point", "opacity": 0},
 "encoding": {
  "x": {"field": "x", "type": "quantitative", "scale": {"domain": [0, 2], "nice": false},
   "axis": {"orient": "bottom", "values": [0.05,0.15,0.25,0.35,0.45,0.55,0.65,0.75,0.85,0.95,1.05,1.15,1.25,1.35,1.45,1.55,1.65,1.75,1.85,1.95], "offset": -12, "tickSize": 12, "tickWidth": 2, "tickColor": "black", "labels": false, "domain": false, "grid": false, "title": null}},
  "y": {"field": "rd", "type": "quantitative", "scale": {"type": "log", "domain": [1e-7, 0.0298], "nice": false},
   "axis": {"orient": "left", "values": [2e-7,3e-7,4e-7,5e-7,6e-7,7e-7,8e-7,9e-7,2e-6,3e-6,4e-6,5e-6,6e-6,7e-6,8e-6,9e-6,2e-5,3e-5,4e-5,5e-5,6e-5,7e-5,8e-5,9e-5,2e-4,3e-4,4e-4,5e-4,6e-4,7e-4,8e-4,9e-4,2e-3,3e-3,4e-3,5e-3,6e-3,7e-3,8e-3,9e-3,2e-2], "offset": -19, "tickSize": 19, "tickWidth": 2, "tickColor": "black", "labels": false, "domain": false, "grid": false, "title": null}}}},
{"data": {"name": "hist"}, "mark": {"type": "point", "opacity": 0},
 "encoding": {
  "x": {"field": "x", "type": "quantitative", "scale": {"domain": [0, 2], "nice": false},
   "axis": {"orient": "bottom", "values": [0.1,0.3,0.5,0.7,0.9,1.1,1.3,1.5,1.7,1.9], "offset": -18, "tickSize": 18, "tickWidth": 2, "tickColor": "black", "labels": false, "domain": false, "grid": false, "title": null}},
  "y": {"field": "rd", "type": "quantitative", "scale": {"type": "log", "domain": [1e-7, 0.0298], "nice": false}, "axis": null}}},
{"data": {"name": "hist"}, "mark": {"type": "line", "interpolate": "step-after", "color": "#000000", "strokeWidth": 4, "clip": true},
 "encoding": {
  "x": {"field": "x", "type": "quantitative", "scale": {"domain": [0, 2], "nice": false},
   "axis": {"orient": "bottom", "values": [0,0.2,0.4,0.6,0.8,1,1.2,1.4,1.6,1.8,2], "offset": -26, "tickSize": 26,
    "labelExpr": "'' + round(datum.value*10)/10",
    "tickWidth": 2, "tickColor": "black", "domain": false, "grid": false,
    "labelFont": "Liberation Sans", "labelFontSize": 33, "labelColor": "black", "labelPadding": 10, "labelFlush": false, "labelOverlap": false, "labelBound": false,
    "title": "Energy deposit (MeV / 5 keV)", "titleFont": "Liberation Sans", "titleFontSize": 33, "titleFontWeight": "normal", "titleColor": "black", "titleAnchor": "end", "titlePadding": 0}},
  "y": {"field": "rd", "type": "quantitative", "scale": {"type": "log", "domain": [1e-7, 0.0298], "nice": false},
   "axis": {"orient": "left", "values": [1e-7,1e-6,1e-5,1e-4,1e-3,1e-2], "offset": -38, "tickSize": 38,
    "labelExpr": "'' + (-round(log(datum.value)/LN10))",
    "tickWidth": 2, "tickColor": "black", "domain": false, "grid": false,
    "labelFont": "Liberation Sans", "labelFontSize": 22, "labelColor": "black", "labelPadding": 13, "labelFlush": false, "labelOverlap": false, "labelBound": false,
    "title": null}}}},
{"data": {"name": "hist"}, "mark": {"type": "line", "interpolate": "step-after", "color": "#ff0000", "strokeWidth": 3.5, "clip": true},
 "encoding": {"x": {"field": "x", "type": "quantitative", "scale": {"domain": [0, 2], "nice": false}, "axis": null},
  "y": {"field": "rm", "type": "quantitative", "scale": {"type": "log", "domain": [1e-7, 0.0298], "nice": false}, "axis": null}}},
{"data": {"name": "boxes"}, "mark": {"type": "rect", "fill": "white", "strokeWidth": 2},
 "encoding": {"x": {"datum": 1.551, "type": "quantitative", "scale": {"domain": [0, 2], "nice": false}, "axis": null}, "x2": {"datum": 2},
  "y": {"field": "top", "type": "quantitative", "scale": {"type": "log", "domain": [1e-7, 0.0298], "nice": false}, "axis": null}, "y2": {"field": "bottom"},
  "stroke": {"field": "series", "type": "nominal", "scale": {"domain": ["Data", "MC"], "range": ["#000000", "#ff0000"]}, "legend": null}}},
{"data": {"name": "boxes"}, "mark": {"type": "rule", "strokeWidth": 2},
 "encoding": {"x": {"datum": 1.551, "type": "quantitative", "scale": {"domain": [0, 2], "nice": false}, "axis": null}, "x2": {"datum": 2},
  "y": {"field": "divider", "type": "quantitative", "scale": {"type": "log", "domain": [1e-7, 0.0298], "nice": false}, "axis": null},
  "stroke": {"field": "series", "type": "nominal", "scale": {"domain": ["Data", "MC"], "range": ["#000000", "#ff0000"]}, "legend": null}}},
{"data": {"name": "stats"}, "transform": [{"filter": "datum.panel == 'R' && datum.kind == 'title'"}],
 "mark": {"type": "text", "font": "Liberation Sans", "fontSize": 44, "align": "center", "baseline": "alphabetic"},
 "encoding": {"x": {"datum": 1.7755, "type": "quantitative", "scale": {"domain": [0, 2], "nice": false}, "axis": null},
  "y": {"field": "y", "type": "quantitative", "scale": {"type": "log", "domain": [1e-7, 0.0298], "nice": false}, "axis": null},
  "text": {"field": "label"},
  "fill": {"field": "series", "type": "nominal", "scale": {"domain": ["Data", "MC"], "range": ["#000000", "#ff0000"]}, "legend": null}}},
{"data": {"name": "stats"}, "transform": [{"filter": "datum.panel == 'R' && datum.kind == 'stat'"}],
 "mark": {"type": "text", "font": "Liberation Sans", "fontSize": 34, "align": "left", "baseline": "alphabetic"},
 "encoding": {"x": {"datum": 1.574, "type": "quantitative", "scale": {"domain": [0, 2], "nice": false}, "axis": null},
  "y": {"field": "y", "type": "quantitative", "scale": {"type": "log", "domain": [1e-7, 0.0298], "nice": false}, "axis": null},
  "text": {"field": "label"},
  "fill": {"field": "series", "type": "nominal", "scale": {"domain": ["Data", "MC"], "range": ["#000000", "#ff0000"]}, "legend": null}}},
{"data": {"name": "stats"}, "transform": [{"filter": "datum.panel == 'R' && datum.kind == 'stat'"}],
 "mark": {"type": "text", "font": "Liberation Sans", "fontSize": 34, "align": "right", "baseline": "alphabetic"},
 "encoding": {"x": {"datum": 1.978, "type": "quantitative", "scale": {"domain": [0, 2], "nice": false}, "axis": null},
  "y": {"field": "y", "type": "quantitative", "scale": {"type": "log", "domain": [1e-7, 0.0298], "nice": false}, "axis": null},
  "text": {"field": "value"},
  "fill": {"field": "series", "type": "nominal", "scale": {"domain": ["Data", "MC"], "range": ["#000000", "#ff0000"]}, "legend": null}}},
{"data": {"name": "notes"}, "transform": [{"filter": "datum.panel == 'R' && datum.kind == 'line'"}],
 "mark": {"type": "text", "font": "Liberation Serif", "fontSize": 94, "align": "left", "baseline": "alphabetic"},
 "encoding": {"x": {"field": "x", "type": "quantitative", "scale": {"domain": [0, 2], "nice": false}, "axis": null},
  "y": {"field": "y", "type": "quantitative", "scale": {"type": "log", "domain": [1e-7, 0.0298], "nice": false}, "axis": null},
  "text": {"field": "text"},
  "color": {"field": "series", "type": "nominal", "scale": {"domain": ["Data", "MC", "Threshold"], "range": ["#000000", "#ff2a00", "#000000"]}, "legend": null}}},
{"data": {"name": "notes"}, "transform": [{"filter": "datum.panel == 'R' && datum.kind == 'exp'"}],
 "mark": {"type": "text", "font": "Liberation Serif", "fontSize": 62, "align": "left", "baseline": "alphabetic"},
 "encoding": {"x": {"field": "x", "type": "quantitative", "scale": {"domain": [0, 2], "nice": false}, "axis": null},
  "y": {"field": "y", "type": "quantitative", "scale": {"type": "log", "domain": [1e-7, 0.0298], "nice": false}, "axis": null},
  "text": {"field": "text"},
  "color": {"field": "series", "type": "nominal", "scale": {"domain": ["Data", "MC", "Threshold"], "range": ["#000000", "#ff2a00", "#000000"]}, "legend": null}}},
{"data": {"name": "notes"}, "transform": [{"filter": "datum.panel == 'R' && datum.kind == 'thr'"}],
 "mark": {"type": "text", "font": "Liberation Serif", "fontSize": 61, "align": "left", "baseline": "alphabetic"},
 "encoding": {"x": {"field": "x", "type": "quantitative", "scale": {"domain": [0, 2], "nice": false}, "axis": null},
  "y": {"field": "y", "type": "quantitative", "scale": {"type": "log", "domain": [1e-7, 0.0298], "nice": false}, "axis": null},
  "text": {"field": "text"},
  "color": {"field": "series", "type": "nominal", "scale": {"domain": ["Data", "MC", "Threshold"], "range": ["#000000", "#ff2a00", "#000000"]}, "legend": null}}}
]
}
]
}
